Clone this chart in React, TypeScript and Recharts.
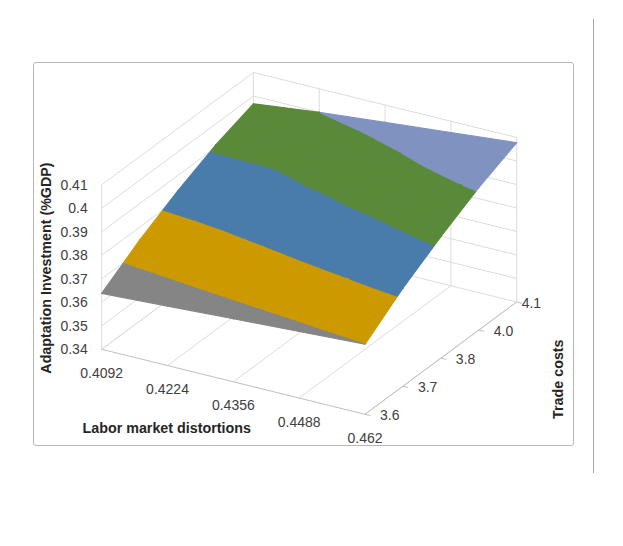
import { ScatterChart, Scatter, XAxis, YAxis } from "recharts";

// Category axis (front): labor market distortions
const laborDistortions = ["0.4092", "0.4224", "0.4356", "0.4488", "0.462"];
// Series axis (depth): trade costs
const tradeCosts = ["3.6", "3.7", "3.8", "4.0", "4.1"];
// Value axis: adaptation investment (%GDP)
const valueTicks = [0.34, 0.35, 0.36, 0.37, 0.38, 0.39, 0.4, 0.41];

// Adaptation investment per trade-cost series, one value per labor distortion
const invest36 = [0.3638, 0.3653, 0.3668, 0.3683, 0.3698];
const invest37 = [0.3745, 0.3762, 0.3779, 0.3796, 0.3817];
const invest38 = [0.3834, 0.3842, 0.3861, 0.3887, 0.3917];
const invest40 = [0.391, 0.3913, 0.3945, 0.3982, 0.4006];
const invest41 = [0.3967, 0.4, 0.4026, 0.4052, 0.4078];

// Surface colour bands (one per major unit of the value axis)
const bandColors = ["#4472c4", "#d9722b", "#858585", "#cc9a00", "#497caa", "#5a8a39", "#8093c0"];

const W = 623;
const H = 546;
const FONT = "'Liberation Sans', Arial, sans-serif";

// oblique view of the 3-D box: origin = front-left floor corner
const VIEW = { ox: 101.7, oy: 349.3, ux: 263.3, uy: 65, vx: 151.7, vy: -112.3, h: 164.5 };

const zMin = valueTicks[0];
const zMax = valueTicks[valueTicks.length - 1];
const nx = laborDistortions.length - 1;
const ny = tradeCosts.length - 1;

type P3 = { fx: number; fy: number; z: number };

function project(fx: number, fy: number, z: number) {
  const fz = (z - zMin) / (zMax - zMin);
  return {
    px: fx * VIEW.ux + fy * VIEW.vx,
    py: -(fx * VIEW.uy + fy * VIEW.vy) + fz * VIEW.h,
  };
}

// keep the part of a polygon above (or below) a value level
function clip(poly: P3[], level: number, above: boolean): P3[] {
  const out: P3[] = [];
  for (let k = 0; k < poly.length; k++) {
    const a = poly[k];
    const b = poly[(k + 1) % poly.length];
    const inA = above ? a.z >= level : a.z <= level;
    const inB = above ? b.z >= level : b.z <= level;
    if (inA) out.push(a);
    if (inA !== inB) {
      const t = (level - a.z) / (b.z - a.z);
      out.push({ fx: a.fx + t * (b.fx - a.fx), fy: a.fy + t * (b.fy - a.fy), z: level });
    }
  }
  return out;
}

const rows = [invest36, invest37, invest38, invest40, invest41];
const corner = (i: number, j: number): P3 => ({ fx: i / nx, fy: j / ny, z: rows[j][i] });

// facets drawn back to front; each cell split in four around its centre
const facets: { color: string; pts: { px: number; py: number }[] }[] = [];
for (let j = ny - 1; j >= 0; j--) {
  for (let i = 0; i < nx; i++) {
    const a = corner(i, j);
    const b = corner(i + 1, j);
    const c = corner(i + 1, j + 1);
    const d = corner(i, j + 1);
    const m: P3 = { fx: (i + 0.5) / nx, fy: (j + 0.5) / ny, z: (a.z + b.z + c.z + d.z) / 4 };
    for (const tri of [[d, c, m], [a, d, m], [b, c, m], [a, b, m]]) {
      bandColors.forEach((color, k) => {
        let poly = clip(tri, valueTicks[k], true);
        poly = clip(poly, valueTicks[k + 1], false);
        if (poly.length >= 3) facets.push({ color, pts: poly.map((q) => project(q.fx, q.fy, q.z)) });
      });
    }
  }
}

// wall and floor gridlines
type Seg = [number, number, number][];
const gridSegs: Seg[] = [];
valueTicks.forEach((z) => {
  gridSegs.push([[0, 0, z], [0, 1, z]]);
  gridSegs.push([[0, 1, z], [1, 1, z]]);
});
laborDistortions.forEach((_, i) => {
  gridSegs.push([[i / nx, 1, zMin], [i / nx, 1, zMax]]);
  gridSegs.push([[i / nx, 0, zMin], [i / nx, 1, zMin]]);
});
gridSegs.push([[0, 0, zMin], [0, 0, zMax]]);

const axisSegs: Seg[] = [
  [[0, 0, zMin], [1, 0, zMin]],
  [[1, 0, zMin], [1, 1, zMin]],
  ...tradeCosts.map((_, j): Seg => [[1, j / ny, zMin], [1.02, j / ny, zMin]]),
];

type LabelPt = {
  px: number;
  py: number;
  text: string;
  dx: number;
  dy: number;
  anchor: string;
  bold?: boolean;
  rotate?: boolean;
};

const valueLabels: LabelPt[] = valueTicks.map((v) => ({
  ...project(0, 0, v), text: String(v), dx: -14, dy: 5, anchor: "end",
}));
const categoryLabels: LabelPt[] = laborDistortions.map((t, i) => ({
  ...project(i / nx, 0, zMin), text: t, dx: 0, dy: 28.5, anchor: "middle",
}));
const seriesLabels: LabelPt[] = tradeCosts.map((t, j) => ({
  ...project(1, j / ny, zMin), text: t, dx: j === ny ? 5 : 15, dy: 6, anchor: "start",
}));
const titles: LabelPt[] = [
  { ...project(0, 0, 0.375), text: "Adaptation Investment (%GDP)", dx: -50.7, dy: 1, anchor: "middle", bold: true, rotate: true },
  { ...project(0.25, 0, zMin), text: "Labor market distortions", dx: -0.8, dy: 67, anchor: "middle", bold: true },
  { ...project(1, 0.5, zMin), text: "Trade costs", dx: 122, dy: 21, anchor: "middle", bold: true, rotate: true },
];

const noShape = () => <g />;

const renderLabel = (p: any) => {
  const d = p.payload as LabelPt;
  const x = p.cx + d.dx;
  const y = p.cy + d.dy;
  return (
    <text
      x={x}
      y={y}
      textAnchor={d.anchor as any}
      fontSize={d.bold ? 14.3 : 14}
      fontFamily={FONT}
      fontWeight={d.bold ? 700 : 400}
      fill={d.bold ? "#262626" : "#404040"}
      transform={d.rotate ? `rotate(-90 ${x} ${y})` : undefined}
    >
      {d.text}
    </text>
  );
};

function segSeries(segs: Seg[], prefix: string, color: string, width: number) {
  return segs.map((s, k) => (
    <Scatter
      key={`${prefix}-${k}`}
      data={s.map(([fx, fy, z]) => project(fx, fy, z))}
      line={{ stroke: color, strokeWidth: width }}
      shape={noShape}
      isAnimationActive={false}
    />
  ));
}

export default function App() {
  return (
    <div style={{ position: "absolute", left: 0, top: 0, width: W, height: H, background: "#fff" }}>
      <div
        style={{
          position: "absolute",
          left: 33,
          top: 62,
          width: 539,
          height: 382,
          border: "1.5px solid #b8b8b8",
          borderRadius: 3,
        }}
      />
      <div style={{ position: "absolute", left: 593, top: 19, width: 1, height: 454, background: "#a6a6a6" }} />
      <div style={{ position: "absolute", left: 0, top: 0 }}>
        <ScatterChart width={W} height={H} margin={{ top: 0, right: 0, bottom: 0, left: 0 }}>
          <XAxis type="number" dataKey="px" domain={[-VIEW.ox, W - VIEW.ox]} allowDataOverflow hide />
          <YAxis type="number" dataKey="py" domain={[VIEW.oy - H, VIEW.oy]} allowDataOverflow hide />
          {segSeries(gridSegs, "grid", "#dcdcdc", 1)}
          {facets.map((f, k) => (
            <Scatter
              key={`facet-${k}`}
              data={f.pts}
              line={{ fill: f.color, stroke: f.color, strokeWidth: 1.1, strokeLinejoin: "round" }}
              lineJointType="linearClosed"
              shape={noShape}
              isAnimationActive={false}
            />
          ))}
          {segSeries(axisSegs, "axis", "#bfbfbf", 1)}
          {[valueLabels, categoryLabels, seriesLabels, titles].map((labels, k) => (
            <Scatter key={`labels-${k}`} data={labels} shape={renderLabel} isAnimationActive={false} />
          ))}
        </ScatterChart>
      </div>
    </div>
  );
}
